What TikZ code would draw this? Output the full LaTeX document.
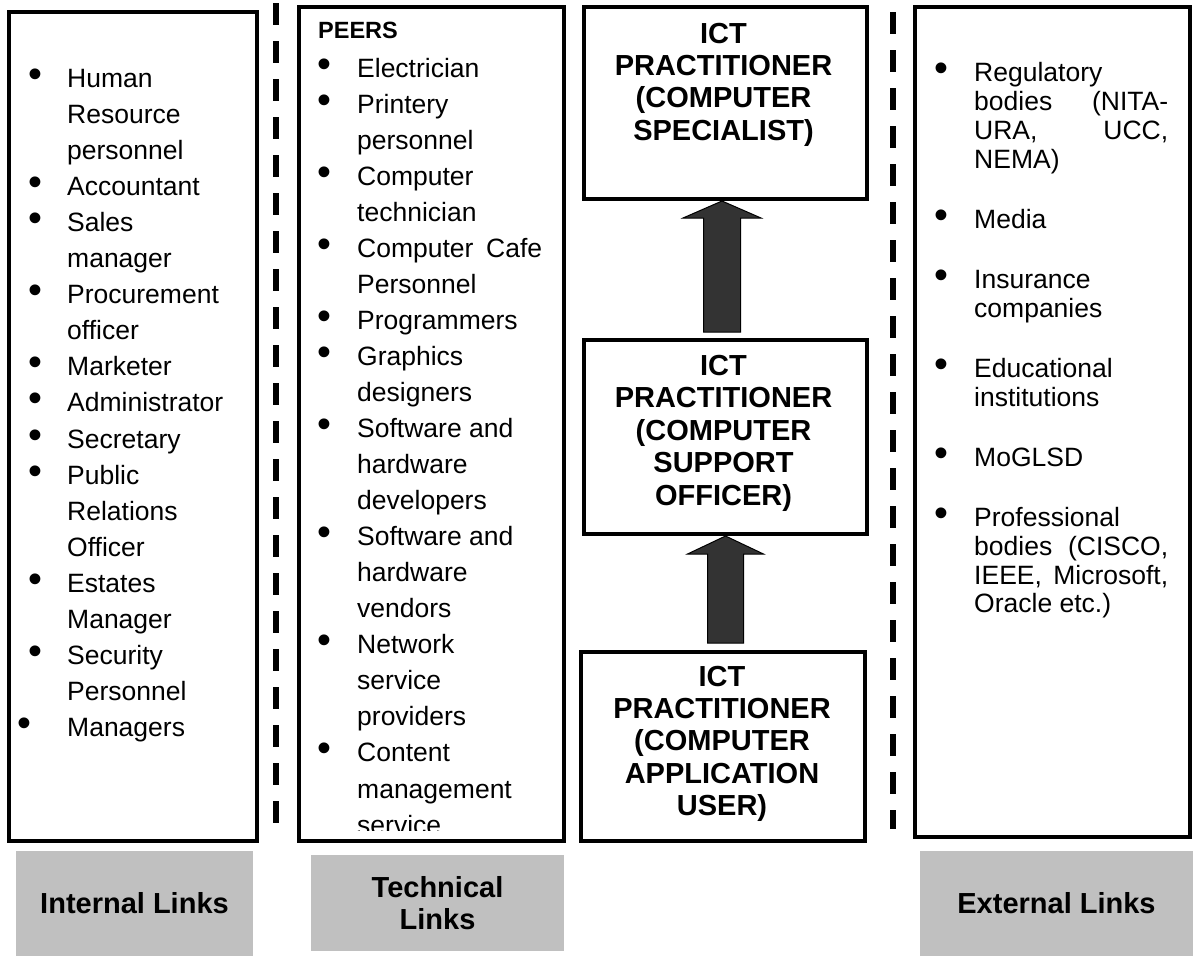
\documentclass[tikz,border=0pt]{standalone}
\usepackage{fontspec}
\usepackage{graphicx}
\setmainfont{Liberation Sans}
\usetikzlibrary{calc}
\definecolor{labelgray}{HTML}{C0C0C0}
\definecolor{arrowfill}{HTML}{333333}
\newcommand\bigbul{\scalebox{1.5}{•}}
\newcommand\blt[1]{\leavevmode\llap{\makebox[0pt][c]{\bigbul}\hspace{#1}}}
\newcommand\jline[2]{\hbox to #1{#2}}
\tikzset{
  frame/.style={draw=black, line width=4pt, inner sep=0pt, fill=white},
  divider/.style={draw=black, line width=5.5pt, dash pattern=on 22pt off 16pt},
  blockarrow/.style={draw=black, line width=1pt, fill=arrowfill, line join=miter},
  listtext/.style={inner sep=0pt, anchor=base west},
  ictext/.style={inner sep=0pt, anchor=base},
  linklabel/.style={fill=labelgray, inner sep=0pt, align=center,
    font=\fontsize{29}{32}\selectfont\bfseries}
}
\begin{document}
\begin{tikzpicture}[x=1pt,y=-1pt]
\useasboundingbox (0,0) rectangle (1193,956);

% dividers
\coordinate (d1top) at (276,3);
\coordinate (d1bot) at (276,826);
\coordinate (d2top) at (893,12);
\coordinate (d2bot) at (893,829);
\draw[divider] (d1top) -- (d1bot);
\draw[divider] (d2top) -- (d2bot);

% frames
\node[frame, minimum width=248pt, minimum height=829pt] (internal) at (133,426.5) {};
\node[frame, minimum width=265pt, minimum height=834pt] (technical) at (431.5,424) {};
\node[frame, minimum width=275pt, minimum height=830pt] (external) at (1052.5,422) {};
\node[frame, minimum width=283pt, minimum height=192pt] (b1) at (725.5,103) {};
\node[frame, minimum width=283pt, minimum height=194pt] (b2) at (725.5,437) {};
\node[frame, minimum width=284pt, minimum height=189pt] (b3) at (723,746.5) {};

% internal list
\node[listtext] (intlist) at (67,87) {\parbox[t]{190pt}{\fontsize{26.5}{36.1}\selectfont
\blt{31.7pt}Human\\
Resource\\
personnel\\
\blt{31.7pt}Accountant\\
\blt{31.7pt}Sales\\
manager\\
\blt{31.7pt}Procurement\\
officer\\
\blt{31.7pt}Marketer\\
\blt{31.7pt}Administrator\\
\blt{31.7pt}Secretary\\
\blt{31.7pt}Public\\
Relations\\
Officer\\
\blt{31.7pt}Estates\\
Manager\\
\blt{31.7pt}Security\\
Personnel\\
\blt{42.3pt}Managers}};

% technical list
\node[listtext] (peers) at (318,38) {\fontsize{23.5}{28}\selectfont\bfseries PEERS};
\begin{scope}
\clip (301,9) rectangle (562,830);
\node[listtext] (techlist) at (357,77) {\parbox[t]{186pt}{\fontsize{26.5}{36.05}\selectfont
\blt{32.3pt}Electrician\\
\blt{32.3pt}Printery\\
personnel\\
\blt{32.3pt}Computer\\
technician\\
\blt{32.3pt}\jline{185pt}{Computer\hfill Cafe}\\
Personnel\\
\blt{32.3pt}Programmers\\
\blt{32.3pt}Graphics\\
designers\\
\blt{32.3pt}Software and\\
hardware\\
developers\\
\blt{32.3pt}Software and\\
hardware\\
vendors\\
\blt{32.3pt}Network\\
service\\
providers\\
\blt{32.3pt}Content\\
management\\
service}};
\end{scope}

% external list
\node[listtext] (extlist) at (974,81.7) {\parbox[t]{195pt}{\fontsize{26.5}{28.9}\selectfont
\blt{32.6pt}Regulatory\\
\jline{194pt}{bodies\hfill(NITA-}\\
\jline{194pt}{URA,\hfill UCC,}\\
NEMA)\\[31.1pt]
\blt{32.6pt}Media\\[31.1pt]
\blt{32.6pt}Insurance\\
companies\\[31.1pt]
\blt{32.6pt}Educational\\
institutions\\[31.1pt]
\blt{32.6pt}MoGLSD\\[31.1pt]
\blt{32.6pt}Professional\\
\jline{194pt}{bodies\hfill(CISCO,}\\
\jline{194pt}{IEEE,\hfill Microsoft,}\\
Oracle etc.)}};

% ICT texts
\node[ictext] (t1) at (723.5,43.3) {\parbox[t]{270pt}{\centering\fontsize{29}{32.3}\selectfont\bfseries
ICT\\PRACTITIONER\\(COMPUTER\\SPECIALIST)}};
\node[ictext] (t2) at (723.5,375) {\parbox[t]{270pt}{\centering\fontsize{29}{32.5}\selectfont\bfseries
ICT\\PRACTITIONER\\(COMPUTER\\SUPPORT\\OFFICER)}};
\node[ictext] (t3) at (722,686.7) {\parbox[t]{270pt}{\centering\fontsize{29}{32.1}\selectfont\bfseries
ICT\\PRACTITIONER\\(COMPUTER\\APPLICATION\\USER)}};

% block arrows
\draw[blockarrow] let \p1=(b1.south), \p2=(b2.north) in
  (\x1-3.5pt,\y1) -- (\x1+35.5pt,\y1-17pt) -- (\x1+15pt,\y1-17pt) -- (\x1+15pt,\y2+6pt)
  -- (\x1-22pt,\y2+6pt) -- (\x1-22pt,\y1-17pt) -- (\x1-42.5pt,\y1-17pt) -- cycle;
\draw[blockarrow] let \p1=(b2.south), \p2=(b3.north) in
  (\x1,\y1) -- (\x1+38pt,\y1-18pt) -- (\x1+18pt,\y1-18pt) -- (\x1+18pt,\y2+7pt)
  -- (\x1-18pt,\y2+7pt) -- (\x1-18pt,\y1-18pt) -- (\x1-38pt,\y1-18pt) -- cycle;

% link labels
\node[linklabel, minimum width=237pt, minimum height=105pt] (intlabel) at (134.5,903.5) {Internal Links};
\node[linklabel, minimum width=253pt, minimum height=96pt] (techlabel) at (437.5,903) {Technical\\Links};
\node[linklabel, minimum width=273pt, minimum height=105pt] (extlabel) at (1056.5,903.5) {External Links};
\end{tikzpicture}
\end{document}
